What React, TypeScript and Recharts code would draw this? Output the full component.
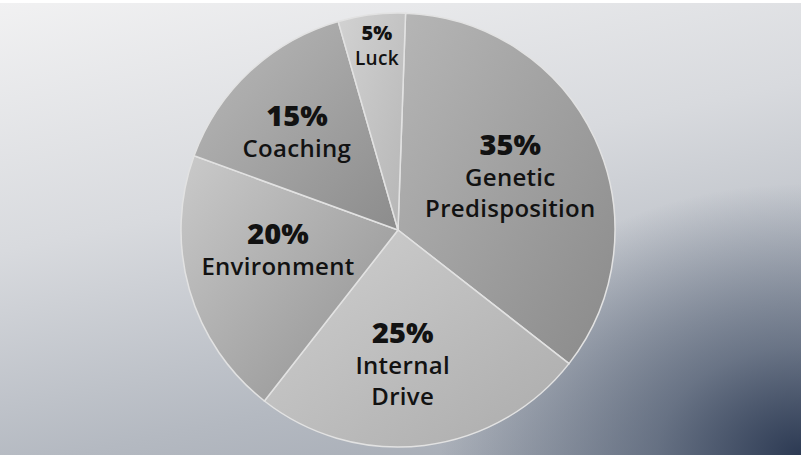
import { PieChart, Pie, Cell } from 'recharts';

const categories = ['Genetic Predisposition', 'Internal Drive', 'Environment', 'Coaching', 'Luck'];
const shares = [35, 25, 20, 15, 5];
const labelLines = [['Genetic', 'Predisposition'], ['Internal', 'Drive'], ['Environment'], ['Coaching'], ['Luck']];

const sliceGradients = [
  ['#b6b6b6', '#8a8a8a'],
  ['#d0d0d0', '#ababab'],
  ['#cacaca', '#8f8f8f'],
  ['#bababa', '#8c8c8c'],
  ['#d2d2d2', '#b5b5b5'],
];

const data = categories.map((name, i) => ({ name, value: shares[i], lines: labelLines[i] }));

// label placement per slice: radius fraction and angle nudge (deg, counter-clockwise)
const labelRadius = [0.576, 0.616, 0.56, 0.652, 0.857];
const labelNudge = [1, -5, -7, 2.6, -0.5];

const RAD = Math.PI / 180;

const renderLabel = (props: any) => {
  const { cx, cy, midAngle, outerRadius, index } = props;
  const small = index === 4;
  const r = outerRadius * labelRadius[index];
  const a = (midAngle + labelNudge[index]) * RAD;
  const x = cx + r * Math.cos(-a);
  const y = cy + r * Math.sin(-a);
  const lines: string[] = data[index].lines;
  const pctSize = small ? 20 : 29;
  const nameSize = small ? 19 : 24;
  const firstGap = small ? 26 : 33;
  const lineH = small ? 26 : 31;
  const span = firstGap + (lines.length - 1) * lineH;
  const top = y - span / 2;
  return (
    <g>
      <text x={x} y={top} textAnchor="middle" dominantBaseline="central" fill="#121212"
        style={{ fontFamily: '"Open Sans", sans-serif', fontWeight: 800, fontSize: pctSize }}>
        {data[index].value}%
      </text>
      {lines.map((t, j) => (
        <text key={j} x={x} y={top + firstGap + j * lineH} textAnchor="middle" dominantBaseline="central" fill="#121212"
          style={{ fontFamily: '"Open Sans", sans-serif', fontWeight: 600, fontSize: nameSize, letterSpacing: 0.3 }}>
          {t}
        </text>
      ))}
    </g>
  );
};

export default function App() {
  return (
    <div
      style={{
        position: 'absolute',
        left: 0,
        top: 0,
        width: 805,
        height: 455,
        background:
          'radial-gradient(ellipse 45% 60% at 100% 100%, rgba(38,52,78,0.95) 0%, rgba(60,74,98,0.6) 40%, rgba(110,120,138,0) 100%), linear-gradient(168deg, #f1f1f2 0%, #d8dade 40%, #b4b9c1 75%, #a0a6b0 100%)',
        borderTop: '3px solid #fff',
        borderRight: '4px solid #fff',
        boxSizing: 'border-box',
      }}
    >
      <PieChart width={801} height={455} margin={{ top: 0, right: 0, bottom: 0, left: 0 }}
        style={{ position: 'absolute', left: 0, top: -3 }}>
        <defs>
          {sliceGradients.map((g, i) => (
            <linearGradient key={i} id={`slice${i}`} x1="0" y1="0" x2="1" y2="1">
              <stop offset="0%" stopColor={g[0]} />
              <stop offset="100%" stopColor={g[1]} />
            </linearGradient>
          ))}
        </defs>
        <Pie
          data={data}
          dataKey="value"
          nameKey="name"
          cx={398}
          cy={230}
          outerRadius={217}
          startAngle={88}
          endAngle={-272}
          stroke="#e2e2e2"
          strokeWidth={1.5}
          labelLine={false}
          label={renderLabel}
          isAnimationActive={false}
        >
          {data.map((d, i) => (
            <Cell key={d.name} fill={`url(#slice${i})`} />
          ))}
        </Pie>
      </PieChart>
    </div>
  );
}
